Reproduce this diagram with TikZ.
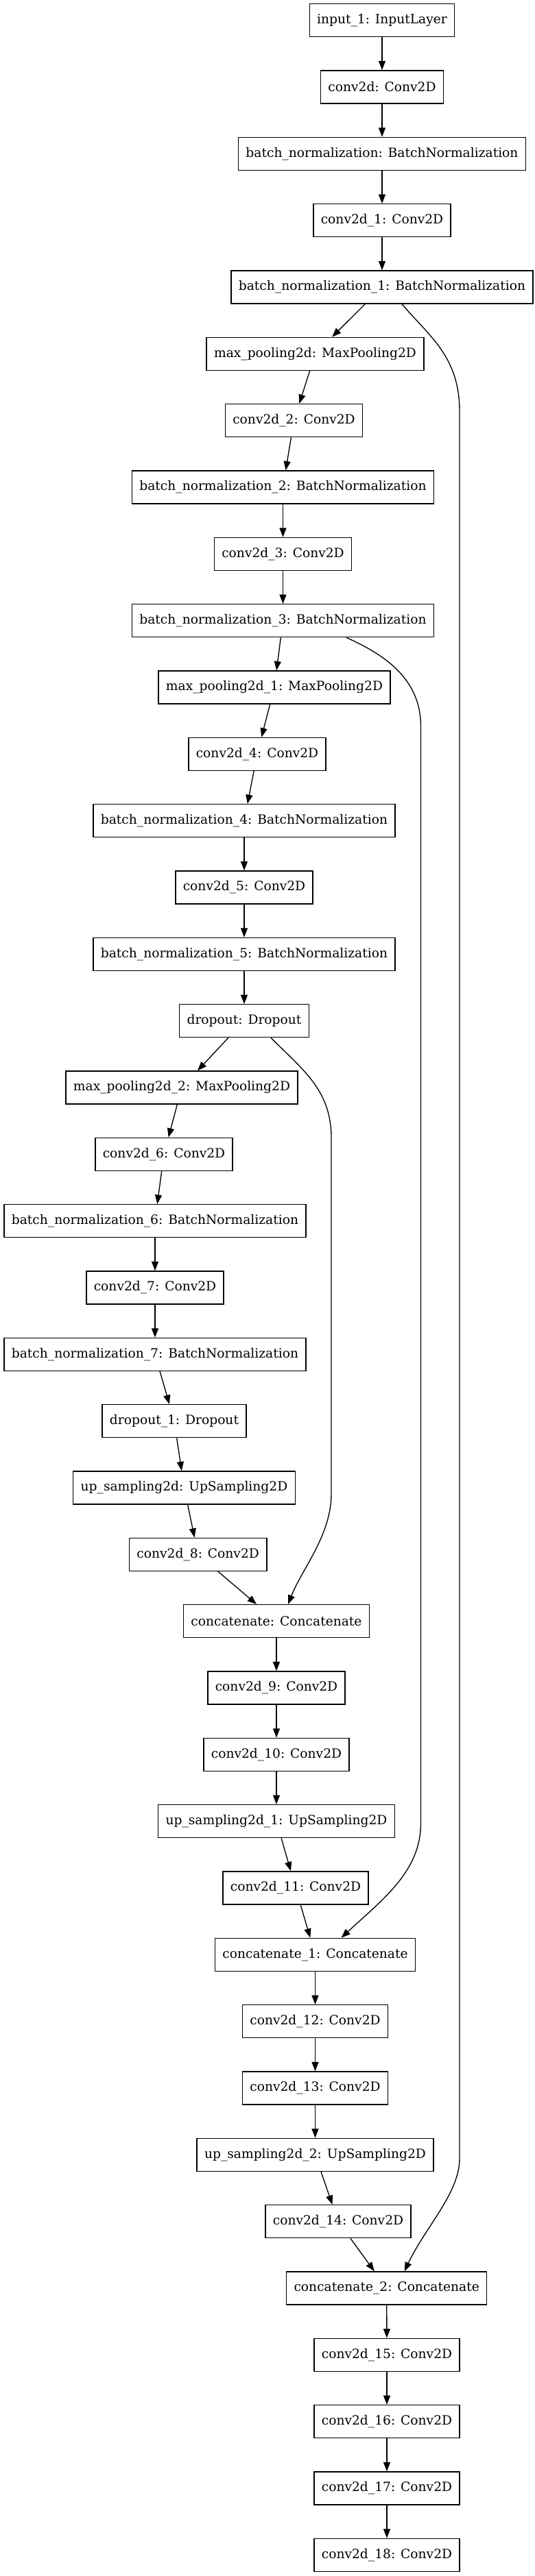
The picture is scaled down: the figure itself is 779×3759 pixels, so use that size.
\documentclass[tikz,border=0pt]{standalone}
\usepackage{fontspec}
\setmainfont{DejaVu Serif}
\usetikzlibrary{arrows.meta,calc}
\tikzset{
  lay/.style={draw=black, rectangle, line width=1pt, minimum height=36pt,
    inner xsep=8.2pt, inner ysep=0pt, font=\fontsize{14}{16}\selectfont},
  edge/.style={draw=black, line width=1pt, -{Triangle[length=10pt,width=7.5pt]}}
}
\begin{document}
\begin{tikzpicture}[x=0.75pt,y=-0.75pt]
\useasboundingbox (0,0) rectangle (779,3759);
\def\Y#1{29.7+97.33*#1}
\node[lay] (in)   at (557,{\Y{0}})  {input\_1: InputLayer};
\node[lay] (c0)   at (557,{\Y{1}})  {conv2d: Conv2D};
\node[lay] (bn0)  at (557,{\Y{2}})  {batch\_normalization: BatchNormalization};
\node[lay] (c1)   at (557,{\Y{3}})  {conv2d\_1: Conv2D};
\node[lay] (bn1)  at (557,{\Y{4}})  {batch\_normalization\_1: BatchNormalization};
\node[lay] (mp0)  at (459.5,{\Y{5}}) {max\_pooling2d: MaxPooling2D};
\node[lay] (c2)   at (428.5,{\Y{6}}) {conv2d\_2: Conv2D};
\node[lay] (bn2)  at (412.5,{\Y{7}}) {batch\_normalization\_2: BatchNormalization};
\node[lay] (c3)   at (412.5,{\Y{8}}) {conv2d\_3: Conv2D};
\node[lay] (bn3)  at (412.5,{\Y{9}}) {batch\_normalization\_3: BatchNormalization};
\node[lay] (mp1)  at (400,{\Y{10}}) {max\_pooling2d\_1: MaxPooling2D};
\node[lay] (c4)   at (375,{\Y{11}}) {conv2d\_4: Conv2D};
\node[lay] (bn4)  at (356,{\Y{12}}) {batch\_normalization\_4: BatchNormalization};
\node[lay] (c5)   at (356,{\Y{13}}) {conv2d\_5: Conv2D};
\node[lay] (bn5)  at (356,{\Y{14}}) {batch\_normalization\_5: BatchNormalization};
\node[lay] (do0)  at (356,{\Y{15}}) {dropout: Dropout};
\node[lay] (mp2)  at (265,{\Y{16}}) {max\_pooling2d\_2: MaxPooling2D};
\node[lay] (c6)   at (239,{\Y{17}}) {conv2d\_6: Conv2D};
\node[lay] (bn6)  at (226,{\Y{18}}) {batch\_normalization\_6: BatchNormalization};
\node[lay] (c7)   at (226,{\Y{19}}) {conv2d\_7: Conv2D};
\node[lay] (bn7)  at (226,{\Y{20}}) {batch\_normalization\_7: BatchNormalization};
\node[lay] (do1)  at (254,{\Y{21}}) {dropout\_1: Dropout};
\node[lay] (up0)  at (268.5,{\Y{22}}) {up\_sampling2d: UpSampling2D};
\node[lay] (c8)   at (288.7,{\Y{23}}) {conv2d\_8: Conv2D};
\node[lay] (cat0) at (403,{\Y{24}}) {concatenate: Concatenate};
\node[lay] (c9)   at (403,{\Y{25}}) {conv2d\_9: Conv2D};
\node[lay] (c10)  at (403,{\Y{26}}) {conv2d\_10: Conv2D};
\node[lay] (up1)  at (403,{\Y{27}}) {up\_sampling2d\_1: UpSampling2D};
\node[lay] (c11)  at (431,{\Y{28}}) {conv2d\_11: Conv2D};
\node[lay] (cat1) at (459.5,{\Y{29}}) {concatenate\_1: Concatenate};
\node[lay] (c12)  at (459.5,{\Y{30}}) {conv2d\_12: Conv2D};
\node[lay] (c13)  at (459.5,{\Y{31}}) {conv2d\_13: Conv2D};
\node[lay] (up2)  at (459.5,{\Y{32}}) {up\_sampling2d\_2: UpSampling2D};
\node[lay] (c14)  at (493,{\Y{33}}) {conv2d\_14: Conv2D};
\node[lay] (cat2) at (563.7,{\Y{34}}) {concatenate\_2: Concatenate};
\node[lay] (c15)  at (564,{\Y{35}}) {conv2d\_15: Conv2D};
\node[lay] (c16)  at (564,{\Y{36}}) {conv2d\_16: Conv2D};
\node[lay] (c17)  at (564,{\Y{37}}) {conv2d\_17: Conv2D};
\node[lay] (c18)  at (564,{\Y{38}}) {conv2d\_18: Conv2D};
% straight chain
\foreach \a/\b in {in/c0,c0/bn0,bn0/c1,c1/bn1,bn1/mp0,mp0/c2,c2/bn2,bn2/c3,c3/bn3,
  bn3/mp1,mp1/c4,c4/bn4,bn4/c5,c5/bn5,bn5/do0,do0/mp2,mp2/c6,c6/bn6,bn6/c7,c7/bn7,
  bn7/do1,do1/up0,up0/c8,c8/cat0,cat0/c9,c9/c10,c10/up1,up1/c11,c11/cat1,cat1/c12,
  c12/c13,c13/up2,up2/c14,c14/cat2,cat2/c15,c15/c16,c16/c17,c17/c18}
  \draw[edge] (\a) -- (\b);
% skip connections
\draw[edge] ($(bn1.south)+(29,0)$) .. controls (625,490) and (670,520) .. (670,600)
  -- (670,3150) .. controls (670,3200) and (620,3250) .. ($(cat2.north)+(26,0)$);
\draw[edge] ($(bn3.south)+(92.5,0)$) .. controls (560,955) and (613.5,990) .. (613.5,1060)
  -- (613.5,2660) .. controls (613.5,2730) and (560,2770) .. ($(cat1.north)+(38,0)$);
\draw[edge] ($(do0.south)+(39,0)$) .. controls (440,1560) and (483,1590) .. (483,1660)
  -- (483,2180) .. controls (483,2240) and (440,2290) .. ($(cat0.north)+(17,0)$);
\end{tikzpicture}
\end{document}
